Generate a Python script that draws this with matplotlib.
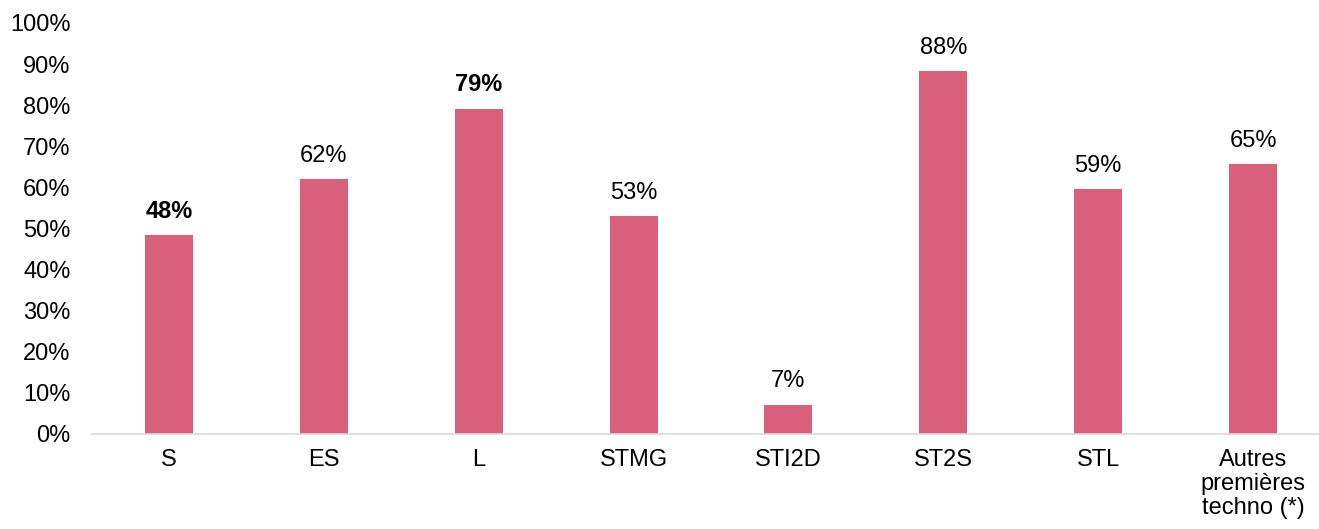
import numpy as np
import matplotlib.pyplot as plt

plt.rcParams['font.family'] = ['Liberation Sans', 'DejaVu Sans']

categories = ["S", "ES", "L", "STMG", "STI2D", "ST2S", "STL", "Autres\npremières\ntechno (*)"]
values = [48.4, 62.0, 79.1, 53.0, 7.1, 88.3, 59.6, 65.6]
value_labels = ["48%", "62%", "79%", "53%", "7%", "88%", "59%", "65%"]
bold_labels = ["S", "L"]

fig = plt.figure(figsize=(13.19, 5.29), dpi=100)
ax = fig.add_axes([91.5 / 1319, 95 / 529, 1239 / 1319, 411 / 529])

x = np.arange(len(categories))
bars = ax.bar(x, values, width=0.31, color="#D9607A")

for xi, v, lab, cat in zip(x, values, value_labels, categories):
    ax.annotate(lab, (xi, v), xytext=(0, 9), textcoords="offset points",
                ha="center", va="bottom", fontsize=17,
                fontweight="bold" if cat in bold_labels else "normal")

ax.set_xlim(-0.5, len(categories) - 0.5)
ax.set_ylim(0, 100)
ax.set_yticks(np.arange(0, 101, 10))
ax.set_yticklabels([f"{t}%" for t in range(0, 101, 10)])
ax.set_xticks(x)
ax.set_xticklabels(categories, linespacing=1.12)
ax.tick_params(axis="both", length=0, labelsize=17)
ax.tick_params(axis="y", pad=15)
ax.tick_params(axis="x", pad=11)

for side in ["top", "right", "left"]:
    ax.spines[side].set_visible(False)
ax.spines["bottom"].set_color("#d9d9d9")
ax.spines["bottom"].set_linewidth(1.2)

fig.savefig("out.png", dpi=100)
